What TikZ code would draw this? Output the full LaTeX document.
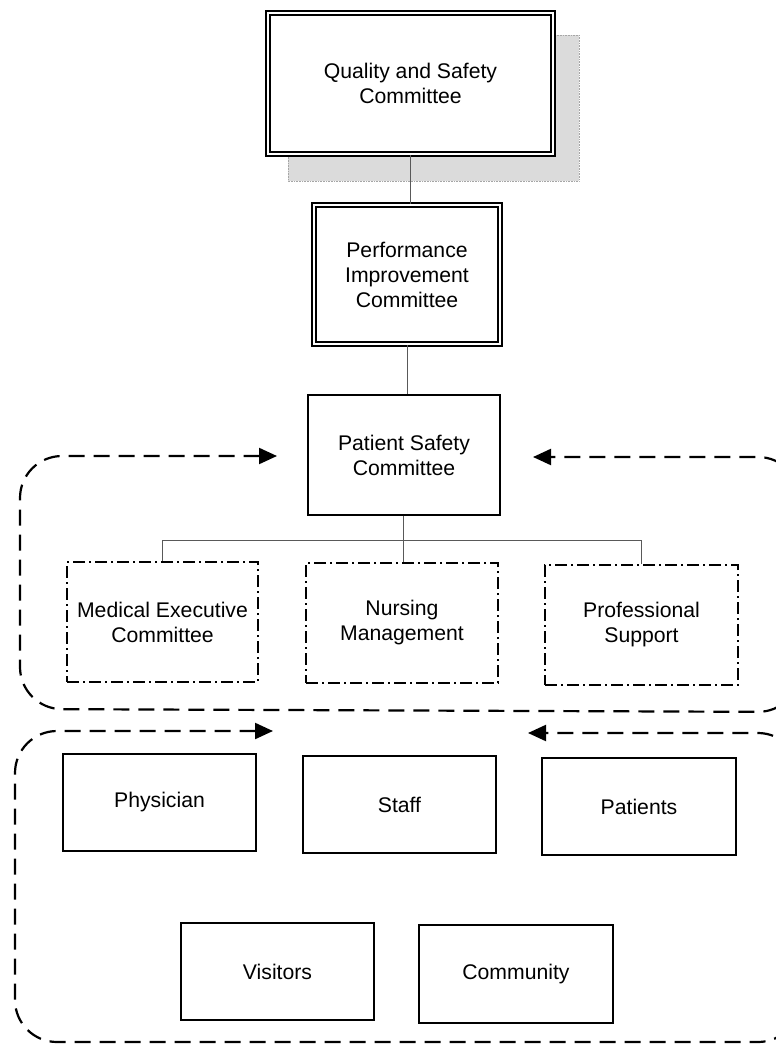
\documentclass[tikz,border=0pt]{standalone}
\usepackage{fontspec}
\setmainfont{Liberation Sans}
\usetikzlibrary{arrows.meta}
\begin{document}
\begin{tikzpicture}[x=1pt,y=-1pt,
  lbl/.style={font=\fontsize{21.2}{25}\selectfont, align=center, inner sep=0pt},
  box/.style={lbl, draw, line width=1.8pt, fill=white},
  dbox/.style={lbl, draw, line width=1.6pt, double, double distance=2.5pt, fill=white},
  ddbox/.style={lbl, draw, line width=1.8pt, dash pattern=on 12pt off 4pt on 2pt off 4pt},
  conn/.style={draw=black!65, line width=1pt},
  loopline/.style={line width=2.2pt, dash pattern=on 16pt off 9pt, rounded corners=42pt,
    {Triangle[length=18pt,width=16pt]}-{Triangle[length=18pt,width=16pt]}}
]
\useasboundingbox (0,0) rectangle (776,1044);
\clip (0,0) rectangle (776,1044);

% shadow of top box
\fill[black!14] (288,35) rectangle (579,181);
\draw[black!35, line width=0.6pt, densely dotted] (288,35) rectangle (579,181);

% top nodes
\node[dbox, minimum width=285pt, minimum height=141pt] (qsc) at (410.5,83.5) {Quality and Safety\\Committee};
\node[dbox, minimum width=186pt, minimum height=139pt] (pic) at (407,274.5) {Performance\\Improvement\\Committee};
\node[box, minimum width=192pt, minimum height=120pt] (psc) at (404,455) {Patient Safety\\Committee};

% sub committees
\node[ddbox, minimum width=191pt, minimum height=120pt] (mec) at (162.5,622) {Medical Executive\\Committee};
\node[ddbox, minimum width=192pt, minimum height=120pt] (nm) at (402,623) {Nursing\\Management};
\node[ddbox, minimum width=193pt, minimum height=120pt] (ps) at (641.5,625) {Professional\\Support};

% bottom group
\node[box, minimum width=193pt, minimum height=97pt] (phys) at (159.5,802.5) {Physician};
\node[box, minimum width=193pt, minimum height=97pt] (staff) at (399.5,804.5) {Staff};
\node[box, minimum width=194pt, minimum height=97pt] (pat) at (639,806.5) {Patients};
\node[box, minimum width=193pt, minimum height=97pt] (vis) at (277.5,971.5) {Visitors};
\node[box, minimum width=194pt, minimum height=98pt] (comm) at (516,974) {Community};

% connectors
\draw[conn] (qsc.south) -- (qsc.south |- pic.north);
\draw[conn] (pic.south) -- (pic.south |- psc.north);
\coordinate (bus) at (403,540);
\draw[conn] (psc.south -| bus) -- (bus);
\draw[conn] (mec.north) |- (bus);
\draw[conn] (ps.north) |- (bus);
\draw[conn] (bus) -- (nm.north -| bus);

% feedback loops
\coordinate (uL) at (277,456);
\coordinate (uR) at (533,457);
\draw[loopline] (uL) -- (20,456) -- (20,709) -- (800,712) -- (800,457) -- (uR);
\coordinate (lL) at (273,731);
\coordinate (lR) at (528,733);
\draw[loopline] (lL) -- (15,731) -- (15,1042) -- (800,1042) -- (800,733) -- (lR);
\end{tikzpicture}
\end{document}
